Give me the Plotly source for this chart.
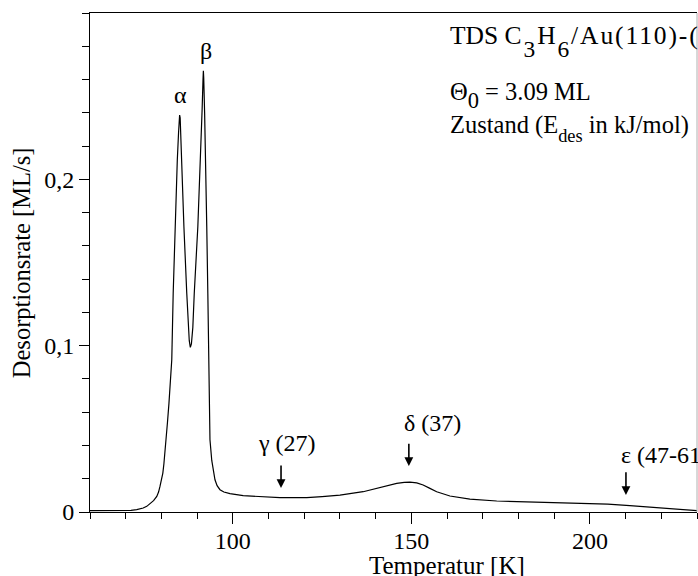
import plotly.graph_objects as go

# Curve data (temperature in K, desorption rate in ML/s)
temperature = [60.0, 65.0, 69.3, 71.5, 73.1, 74.0, 74.9, 75.9, 76.8, 77.8, 78.7, 79.2, 79.6,
               80.0, 80.4, 80.7, 81.0, 81.3, 81.7, 82.1, 82.5, 82.9, 83.3, 83.8, 84.45, 84.8,
               85.0, 85.1, 85.25, 85.6, 86.3, 87.1, 87.5, 87.8, 88.1, 88.4, 88.8, 89.2, 90.2,
               91.0, 91.4, 91.65, 91.75, 91.85, 92.1, 92.4, 92.7, 93.0, 93.3, 93.6, 94.1, 94.5,
               95.0, 95.6, 96.4, 97.5, 99.2, 102.9, 108.0, 113.2, 117.0, 120.7, 125.0, 130.0,
               136.5, 141.2, 145.9, 148.0, 149.6, 151.5, 153.3, 155.2, 157.1, 160.8, 166.4,
               173.9, 182.0, 192.5, 199.7, 205.0, 211.2, 220.5, 229.7, 232.0]
rate = [0.0008, 0.0008, 0.0008, 0.0010, 0.0014, 0.0018, 0.0024, 0.0034, 0.0050, 0.0068,
        0.0094, 0.0120, 0.0154, 0.0190, 0.0234, 0.0290, 0.0354, 0.0434, 0.0540, 0.0650,
        0.0780, 0.0915, 0.1315, 0.1715, 0.2116, 0.2280, 0.2360, 0.2386, 0.2370, 0.2116,
        0.1715, 0.1315, 0.1130, 0.1030, 0.0990, 0.1010, 0.1110, 0.1315, 0.1715, 0.2116,
        0.2420, 0.2600, 0.2652, 0.2610, 0.2400, 0.2116, 0.1715, 0.1315, 0.0913, 0.0434,
        0.0310, 0.0250, 0.0194, 0.0158, 0.0134, 0.0120, 0.0110, 0.0098, 0.0092, 0.0087,
        0.0086, 0.0087, 0.0093, 0.0102, 0.0122, 0.0148, 0.0172, 0.0178, 0.0180, 0.0175,
        0.0162, 0.0142, 0.0122, 0.0096, 0.0078, 0.0066, 0.0061, 0.0056, 0.0052, 0.0047,
        0.0038, 0.0024, 0.0008, 0.0005]

x_range = [60, 230]
y_range = [0, 0.3]
x_major = [100, 150, 200]
x_major_labels = ["100", "150", "200"]
y_major = [0, 0.1, 0.2]
y_major_labels = ["0", "0,1", "0,2"]

x_title = "Temperatur [K]"
y_title = "Desorptionsrate [ML/s]"

# peak labels: (text, T, rate)
peak_labels = [("α", 85.3, 0.2510), ("β", 92.5, 0.2770)]
state_labels = [("γ (27)", 106.5, 0.0413), ("δ (37)", 147.3, 0.0537), ("ε (47-61)", 208.2, 0.0343)]
# arrows: (T, rate tip, rate tail)
arrows = [(113.5, 0.0144, 0.0289), (149.3, 0.0277, 0.0419), (210.1, 0.0102, 0.0248)]


def sub(t, shift, size="92%", extra=""):
    return "<span style='baseline-shift:-%s;font-size:%s;%s'>%s</span>" % (shift, size, extra, t)


def spaced(t, ls="1.9px"):
    return "<span style='letter-spacing:%s'>%s</span>" % (ls, t)


LS = "letter-spacing:1.9px"
header_lines = [
    ("TDS " + spaced("C") + sub("3", "0.55em", extra=LS) + spaced("H")
     + sub("6", "0.55em", extra=LS) + spaced("/Au(110)-(1×2)"), 25.5, 0.942),
    ("Θ" + sub("0", "0.35em") + " = 3.09 ML", 24.5, 0.835),
    ("Zustand (E" + sub("des", "0.5em", "75%") + " in kJ/mol)", 24.5, 0.769),
]

FONT = "'Liberation Serif', 'Times New Roman', Times, 'DejaVu Serif', serif"

fig = go.Figure()
fig.add_trace(go.Scatter(x=temperature, y=rate, mode="lines",
                         line=dict(color="black", width=1.2),
                         showlegend=False, hoverinfo="skip"))

annotations = []
for txt, xv, yv in peak_labels:
    annotations.append(dict(x=xv, y=yv, xref="x", yref="y", text=txt, showarrow=False,
                            font=dict(family=FONT, size=24, color="black"),
                            xanchor="center", yanchor="middle"))
for txt, xv, yv in state_labels:
    annotations.append(dict(x=xv, y=yv, xref="x", yref="y", text=txt, showarrow=False,
                            font=dict(family=FONT, size=24, color="black"),
                            xanchor="left", yanchor="middle"))
for xv, ytip, ytail in arrows:
    annotations.append(dict(x=xv, y=ytip, ax=xv, ay=ytail, xref="x", yref="y",
                            axref="x", ayref="y", text="", showarrow=True,
                            arrowhead=2, arrowsize=1.1, arrowwidth=1.6,
                            arrowcolor="black", standoff=0, startstandoff=0))
for txt, size, yp in header_lines:
    annotations.append(dict(x=(448 - 90) / 607, y=yp, xref="paper", yref="paper", text=txt,
                            showarrow=False, font=dict(family=FONT, size=size, color="black"),
                            xanchor="left", yanchor="middle"))

# axis titles
annotations.append(dict(x=160, y=-0.108, xref="x", yref="paper", text=x_title, showarrow=False,
                        font=dict(family=FONT, size=25, color="black"),
                        xanchor="center", yanchor="middle"))
annotations.append(dict(x=-0.1125, y=0.5, xref="paper", yref="paper", text=y_title,
                        showarrow=False, textangle=-90,
                        font=dict(family=FONT, size=24.5, color="black"),
                        xanchor="center", yanchor="middle"))

fig.update_layout(
    width=698, height=576,
    margin=dict(l=90, r=1, t=13, b=64, pad=0),
    paper_bgcolor="white", plot_bgcolor="white",
    font=dict(family=FONT, size=24, color="black"),
    annotations=annotations,
    shapes=[dict(type="line", xref="paper", yref="paper", x0=1, x1=1, y0=0, y1=1,
                 line=dict(color="#b0b0b0", width=1))],
)
fig.update_xaxes(range=x_range, showgrid=False, zeroline=False,
                 showline=True, linecolor="black", linewidth=1, mirror=True,
                 ticks="outside", ticklen=11, tickwidth=1, tickcolor="black",
                 tickvals=x_major, ticktext=x_major_labels, ticklabelstandoff=-4,
                 tickfont=dict(family=FONT, size=24, color="black"),
                 minor=dict(dtick=10, tick0=0, ticks="outside", ticklen=6,
                            tickwidth=1, tickcolor="black", showgrid=False))
fig.update_yaxes(range=y_range, showgrid=False, zeroline=False,
                 showline=True, linecolor="black", linewidth=1,
                 ticks="outside", ticklen=10, tickwidth=1, tickcolor="black",
                 tickvals=y_major, ticktext=y_major_labels,
                 tickfont=dict(family=FONT, size=24, color="black"),
                 minor=dict(dtick=0.02, tick0=0, ticks="outside", ticklen=7,
                            tickwidth=1, tickcolor="black", showgrid=False))

fig.write_html("out.html")
